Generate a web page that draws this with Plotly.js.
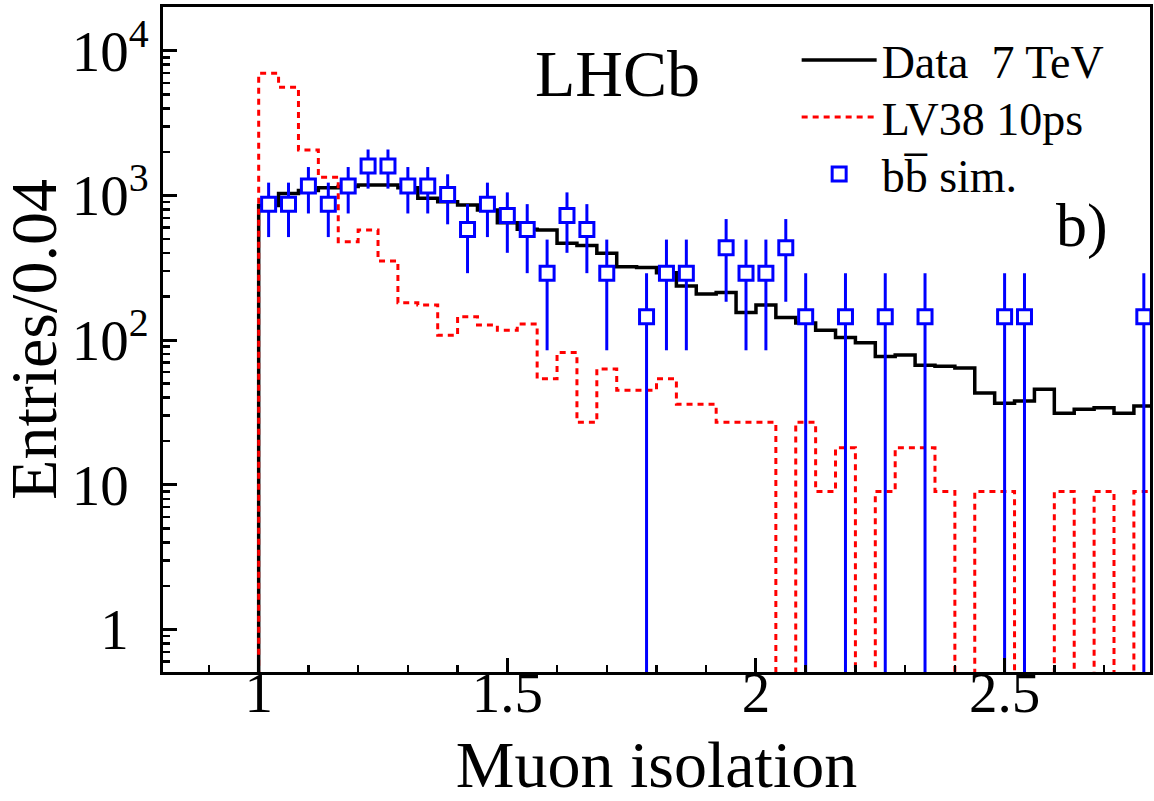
<!DOCTYPE html>
<html><head><meta charset="utf-8">
<script src="https://cdn.plot.ly/plotly-3.0.1.min.js"></script>
<style>html,body{margin:0;padding:0;background:#fff}#chart{width:1154px;height:801px}</style>
</head><body><div id="chart"></div>
<script>
// Bin edges (width 0.04)
const binEdges = [1.00,1.04,1.08,1.12,1.16,1.20,1.24,1.28,1.32,1.36,1.40,1.44,1.48,1.52,1.56,1.60,1.64,1.68,1.72,1.76,
  1.80,1.84,1.88,1.92,1.96,2.00,2.04,2.08,2.12,2.16,2.20,2.24,2.28,2.32,2.36,2.40,2.44,2.48,2.52,2.56,
  2.60,2.64,2.68,2.72,2.76,2.80];
// Data 7 TeV (black histogram)
const dataCounts = [850,1030,1080,1130,1150,1180,1180,1130,955,904,859,793,648,583,577,467,450,398,321,318,
  292,236,208,213,155,175,143,131,117,104,96,77,79,67,66,64,43,36.6,38,45.7,
  31.2,33.3,34.1,31.2,35];
// LV38 10ps (red dashed histogram)
const lv38Counts = [6980,5580,2060,1333,479,577,352,181,175,108,145,127,117,129,54,82,27,63,45,45,
  54,36,36,27,27,27,0,27,9,18,0,9,18,18,9,0,9,9,0,0,
  9,0,9,0,9];
// bb sim. (blue points with errors)
const bbX = [1.02,1.06,1.10,1.14,1.18,1.22,1.26,1.30,1.34,1.38,1.42,1.46,1.50,1.54,1.58,1.62,1.66,1.70,1.78,1.82,
  1.86,1.94,1.98,2.02,2.06,2.10,2.18,2.26,2.34,2.50,2.54,2.78];
const bbY = [870,870,1160,870,1160,1595,1595,1160,1160,1015,580,870,725,580,290,725,580,290,145,290,
  290,435,290,290,435,145,145,145,145,145,145,145];
const bbErr = [355,355,410,355,410,481,481,410,410,384,290,355,324,290,205,324,290,205,145,205,
  205,251,205,205,251,145,145,145,145,145,145,145];
// Axis ticks
const xTickVals = [1,1.5,2,2.5];
const xTickText = ['1','1.5','2','2.5'];
const yTickVals = [1,10,100,1000,10000];
const PAD = '<sup>\u00a0\u00a0</sup>';
const yTickText = ['1'+PAD,'10'+PAD,'10<sup>2</sup>','10<sup>3</sup>','10<sup>4</sup>'];

const SERIF = 'Liberation Serif';
const FLOOR = 0.01; // empty bins drawn below the visible axis range
const X_RANGE = [0.8076, 2.7924];
function stepXY(edges, counts){
  const x=[edges[0]], y=[FLOOR];
  for(let i=0;i<counts.length;i++){ x.push(edges[i]); y.push(counts[i]>0?counts[i]:FLOOR); }
  x.push(edges[counts.length]); y.push(counts[counts.length-1]>0?counts[counts.length-1]:FLOOR);
  return {x,y};
}
const minorY = [];
for(let e=-1;e<=4;e++){ for(let m=2;m<=9;m++){ minorY.push(m*Math.pow(10,e)); } }

const dStep = stepXY(binEdges, dataCounts);
const rStep = stepXY(binEdges, lv38Counts);

const TITLE_FONT = {family:SERIF, size:66, color:'black'};
const TICK_FONT = {family:SERIF, size:57, color:'black'};

const traces = [
  {type:'scatter', mode:'lines', name:'Data\u00a0 7 TeV', x:dStep.x, y:dStep.y,
   line:{shape:'hv', color:'black', width:3.5}},
  {type:'scatter', mode:'lines', name:'LV38 10ps', x:rStep.x, y:rStep.y,
   line:{shape:'hv', color:'#ff0000', width:3, dash:'6px,5px'}},
  {type:'scatter', mode:'markers', name:'bb\u0305 sim.', x:bbX, y:bbY,
   marker:{symbol:'square', size:14, color:'white', line:{color:'#0000ff', width:3}},
   error_y:{type:'data', array:bbErr, visible:true, color:'#0000ff', thickness:3, width:0}},
  // transparent anchor so the label axis (x2) gets drawn
  {type:'scatter', mode:'markers', x:[bbX[0]], y:[bbY[0]], xaxis:'x2', yaxis:'y',
   marker:{opacity:0, size:1}, showlegend:false, hoverinfo:'skip'}
];

const axisCommon = {showline:true, linewidth:3, linecolor:'black', mirror:true, showgrid:false, zeroline:false,
  ticks:'inside', ticklen:14, tickwidth:3, tickcolor:'black'};

const layout = {
  width:1154, height:801,
  margin:{l:163, r:4, t:7, b:129},
  paper_bgcolor:'white', plot_bgcolor:'white',
  font:{family:SERIF, color:'black'},
  showlegend:true,
  legend:{x:0.642, y:0.975, xanchor:'left', yanchor:'top', font:{family:SERIF, size:46, color:'black'},
          bgcolor:'rgba(0,0,0,0)', itemwidth:75, tracegroupgap:0},
  // main x axis: frame and ticks (labels drawn by the overlaying label axis)
  xaxis:Object.assign({}, axisCommon, {
    range:X_RANGE, tickmode:'array', tickvals:xTickVals, ticktext:xTickText, showticklabels:false,
    tickfont:TICK_FONT,
    minor:{dtick:0.1, tick0:0, ticks:'inside', ticklen:7, tickwidth:2.5, tickcolor:'black', showgrid:false}
  }),
  // label axis: same scale, slightly higher so the labels hug the frame like the reference
  xaxis2:{
    overlaying:'x', anchor:'free', position:0.027, side:'bottom', range:X_RANGE,
    tickmode:'array', tickvals:xTickVals, ticktext:xTickText, ticks:'', showline:false, showgrid:false, zeroline:false,
    tickfont:TICK_FONT,
    title:{text:'Muon isolation', font:TITLE_FONT, standoff:65}
  },
  yaxis:Object.assign({}, axisCommon, {
    type:'log', range:[-0.294, 4.302], tickmode:'array', tickvals:yTickVals, ticktext:yTickText,
    tickfont:TICK_FONT,
    minor:{tickmode:'array', tickvals:minorY, ticks:'inside', ticklen:7, tickwidth:2.5, tickcolor:'black', showgrid:false},
    title:{text:'Entries/0.04', font:TITLE_FONT, standoff:3}
  }),
  annotations:[
    {text:'LHCb', xref:'paper', yref:'paper', x:0.46, y:0.9005, xanchor:'center', yanchor:'middle',
     showarrow:false, font:{family:SERIF, size:66, color:'black'}},
    {text:'b)', xref:'paper', yref:'paper', x:0.931, y:0.672, xanchor:'center', yanchor:'middle',
     showarrow:false, font:{family:SERIF, size:62, color:'black'}}
  ]
};

function shiftOnce(el, dx, dy){
  if(!el) return;
  const mark = 'translate(' + dx + ',' + dy + ') ';
  const t = el.getAttribute('transform') || '';
  if(t.indexOf(mark) === 0) return;
  el.setAttribute('transform', mark + t);
}

function tweak(gd){
  shiftOnce(gd.querySelector('.g-ytitle text'), -3, 0);
  const rows = gd.querySelectorAll('.legend .traces');
  if(rows.length){
    const parse = function(r){ const m = /translate\(\s*([-\d.]+)[ ,]+([-\d.]+)/.exec(r.getAttribute('transform')||''); return m ? [parseFloat(m[1]), parseFloat(m[2])] : [0,0]; };
    const p0 = parse(rows[0]);
    rows.forEach(function(r, i){ const p = parse(r); r.setAttribute('transform', 'translate(' + p[0] + ',' + (p0[1] + i*57) + ')'); });
  }
}

Plotly.newPlot('chart', traces, layout, {displayModeBar:false, staticPlot:true}).then(function(gd){
  const hasX2Labels = gd.querySelectorAll('g.x2tick text').length > 0 && !!gd.querySelector('.g-x2title text');
  if(!hasX2Labels){
    // fallback: labels and title on the main x axis
    return Plotly.relayout(gd, {
      'xaxis2.visible': false,
      'xaxis.showticklabels': true,
      'xaxis.title': {text:'Muon isolation', font:TITLE_FONT, standoff:48}
    }).then(function(){ tweak(gd); });
  }
  tweak(gd);
});
</script></body></html>
